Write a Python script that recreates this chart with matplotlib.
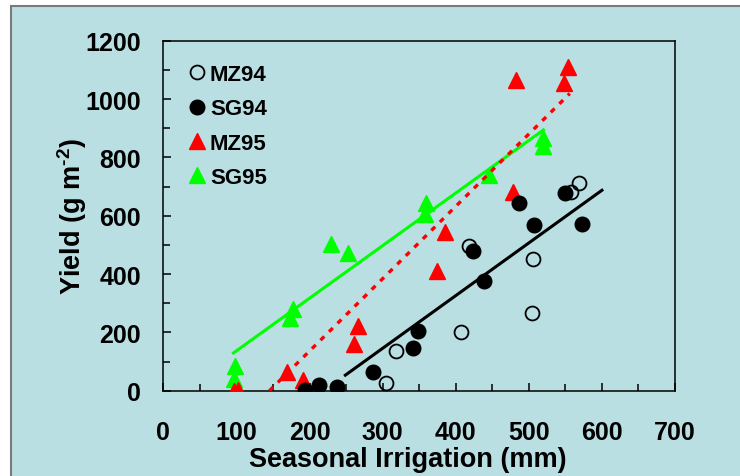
import numpy as np
import matplotlib
matplotlib.use("Agg")
import matplotlib.pyplot as plt
from matplotlib.patches import Rectangle
from matplotlib.ticker import MultipleLocator

plt.rcParams['font.family'] = ['Liberation Sans', 'DejaVu Sans']
plt.rcParams['font.weight'] = 'bold'
plt.rcParams['mathtext.fontset'] = 'custom'
plt.rcParams['mathtext.bf'] = 'Liberation Sans:bold'
plt.rcParams['mathtext.rm'] = 'Liberation Sans:bold'
plt.rcParams['mathtext.default'] = 'bf'

# seasonal irrigation (mm) and yield (g m-2) per crop / year
mz94_x = [304, 318, 407, 418, 504, 506, 558, 569]
mz94_y = [25, 137, 202, 497, 265, 451, 682, 711]

sg94_x = [194, 213, 238, 287, 341, 349, 424, 439, 486, 507, 550, 573]
sg94_y = [3, 21, 14, 65, 145, 206, 480, 375, 643, 568, 678, 571]

mz95_x = [97, 102, 169, 191, 261, 267, 374, 385, 479, 483, 548, 554]
mz95_y = [0, 4, 63, 37, 160, 223, 409, 543, 682, 1065, 1054, 1109]

sg95_x = [97, 98, 173, 178, 230, 252, 358, 360, 445, 520, 520]
sg95_y = [40, 86, 248, 280, 503, 471, 606, 643, 740, 840, 865]

# fitted lines: (slope, intercept, x start, x end)
fit_sg94 = (1.806, -396.4, 249, 600)
fit_mz95 = (2.48, -360.0, 145, 556)
fit_sg95 = (1.803, -43.6, 96, 520)

bg = '#BADFE2'

fig = plt.figure(figsize=(7.4, 4.77), dpi=100, facecolor='white')
fig.patches.append(Rectangle((11 / 740, -0.1), 1.2, 1 - 7 / 477 + 0.1,
                             transform=fig.transFigure, facecolor=bg,
                             edgecolor='#7a7a7a', linewidth=1.5, zorder=-10))

ax = fig.add_axes([0.2207, 0.1788, 0.6915, 0.7338])
ax.set_facecolor(bg)

ax.plot(mz94_x, mz94_y, 'o', ms=10, mfc='none', mec='black', mew=1.3,
        label='MZ94', zorder=3)
ax.plot(sg95_x, sg95_y, '^', ms=12, color='#00FF00', mec='#00FF00',
        label='SG95', zorder=3)
ax.plot(mz95_x, mz95_y, '^', ms=12, color='#FF0000', mec='#FF0000',
        label='MZ95', zorder=4)
ax.plot(sg94_x, sg94_y, 'o', ms=10.5, color='black', label='SG94', zorder=5)


def fit_line(fit):
    m, b, x0, x1 = fit
    xs = np.array([x0, x1])
    return xs, m * xs + b


xs, ys = fit_line(fit_sg94)
ax.plot(xs, ys, color='black', lw=2.2, zorder=6)
xs, ys = fit_line(fit_sg95)
ax.plot(xs, ys, color='#00FF00', lw=2.2, zorder=6)
xs, ys = fit_line(fit_mz95)
ax.plot(xs, ys, color='#FF0000', lw=2.4, dashes=(1.6, 2.0), zorder=7)

ax.set_xlim(0, 700)
ax.set_ylim(0, 1200)
ax.xaxis.set_major_locator(MultipleLocator(100))
ax.xaxis.set_minor_locator(MultipleLocator(50))
ax.yaxis.set_major_locator(MultipleLocator(200))
ax.yaxis.set_minor_locator(MultipleLocator(100))
ax.tick_params(which='both', direction='in', top=False, right=False,
               width=1.1, labelsize=18)
ax.tick_params(which='major', length=6)
ax.tick_params(which='minor', length=5)
ax.tick_params(axis='x', which='major', pad=21)
ax.tick_params(axis='y', which='major', pad=16)
for s in ax.spines.values():
    s.set_linewidth(1.1)

ax.set_xlabel('Seasonal Irrigation (mm)', fontsize=19.5, fontweight='bold')
ax.xaxis.set_label_coords(0.477, -0.158)
ax.set_ylabel(r'Yield (g m$^{\text{-}2}$)', fontsize=19.5, fontweight='bold')
ax.yaxis.set_label_coords(-0.146, 0.5)

handles, labels = ax.get_legend_handles_labels()
order = [labels.index(n) for n in ['MZ94', 'SG94', 'MZ95', 'SG95']]
leg = ax.legend([handles[i] for i in order], [labels[i] for i in order],
                loc='upper left', bbox_to_anchor=(0.025, 0.965),
                frameon=False, fontsize=16, handlelength=0.9,
                handletextpad=0.12, labelspacing=0.6, borderpad=0,
                numpoints=1)

fig.savefig('out.png', dpi=100, facecolor=fig.get_facecolor())
